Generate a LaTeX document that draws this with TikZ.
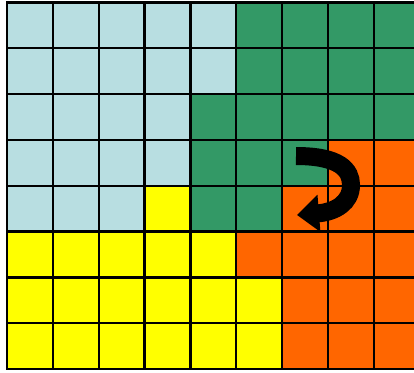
\documentclass[tikz,border=0pt]{standalone}
\usetikzlibrary{arrows.meta}
\definecolor{cellB}{RGB}{184,222,225}
\definecolor{cellG}{RGB}{51,153,102}
\definecolor{cellY}{RGB}{255,255,0}
\definecolor{cellO}{RGB}{255,102,0}
\begin{document}
\begin{tikzpicture}[
  x=1pt, y=-1pt,
  cell/.style={draw=black, line width=2.4pt},
  turn/.style={draw=black, line width=18pt,
               -{Triangle[length=22pt,width=36pt]}},
]
\useasboundingbox (0,0) rectangle (414,372);
\clip (0,0) rectangle (414,372);

\def\S{45.85}   % cell size
\def\X{7}       % left edge of the grid
\def\Y{2.3}     % top edge of the grid

% ---- cells, one row of colours per line ----
\foreach \r/\row in {
    0/{B,B,B,B,B,G,G,G,G},
    1/{B,B,B,B,B,G,G,G,G},
    2/{B,B,B,B,G,G,G,G,G},
    3/{B,B,B,B,G,G,G,O,O},
    4/{B,B,B,Y,G,G,O,O,O},
    5/{Y,Y,Y,Y,Y,O,O,O,O},
    6/{Y,Y,Y,Y,Y,Y,O,O,O},
    7/{Y,Y,Y,Y,Y,Y,O,O,O}}
  \foreach \c [count=\i from 0] in \row
    \filldraw[cell, fill=cell\c] (\X+\i*\S,\Y+\r*\S) rectangle ++(\S,\S);

% ---- the turning arrow ----
\draw[turn] (296,156) .. controls (340,156) and (351,170) .. (351,185)
            .. controls (351,203) and (335,212) .. (297,215);
\end{tikzpicture}
\end{document}
